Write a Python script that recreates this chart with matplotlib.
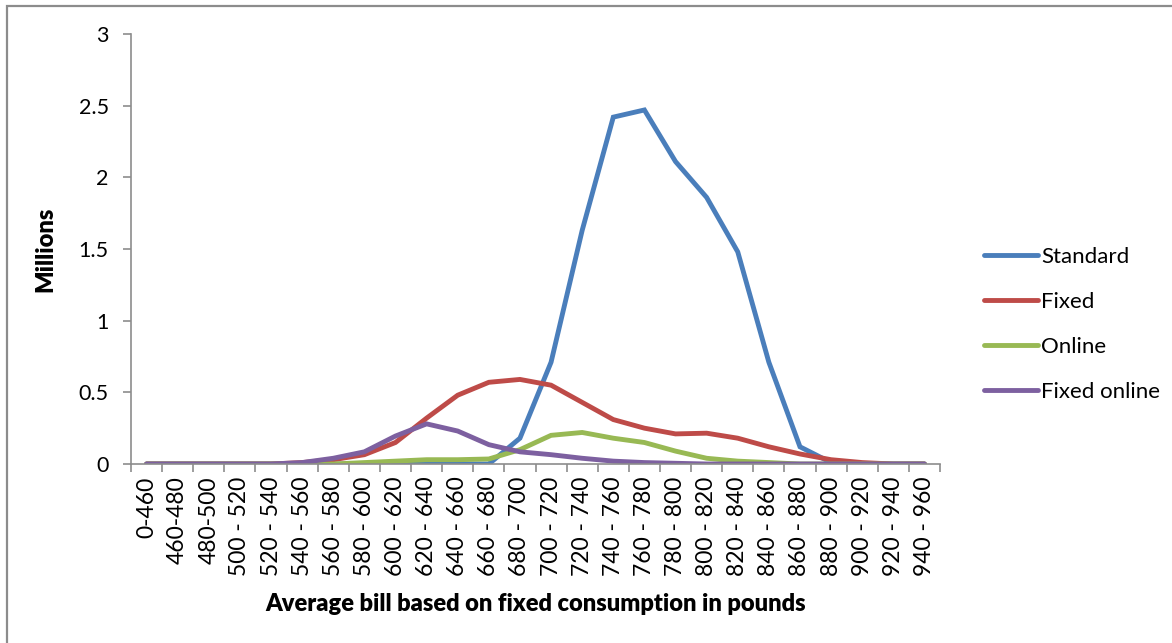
import matplotlib
matplotlib.use("Agg")
import matplotlib.pyplot as plt
import matplotlib.patches as patches
import numpy as np

# Distribución de hogares por factura media (millones)
categorias = ["0-460", "460-480", "480-500", "500 - 520", "520 - 540", "540 - 560",
              "560 - 580", "580 - 600", "600 - 620", "620 - 640", "640 - 660",
              "660 - 680", "680 - 700", "700 - 720", "720 - 740", "740 - 760",
              "760 - 780", "780 - 800", "800 - 820", "820 - 840", "840 - 860",
              "860 - 880", "880 - 900", "900 - 920", "920 - 940", "940 - 960"]

standard = [0, 0, 0, 0, 0, 0, 0, 0, 0, 0, 0, 0, 0.18, 0.71, 1.63, 2.42,
            2.47, 2.11, 1.86, 1.48, 0.71, 0.12, 0.01, 0, 0, 0]
fixed = [0, 0, 0, 0, 0, 0.01, 0.03, 0.065, 0.15, 0.32, 0.48, 0.57, 0.59,
         0.55, 0.43, 0.31, 0.25, 0.21, 0.215, 0.18, 0.12, 0.07, 0.03, 0.01, 0, 0]
online = [0, 0, 0, 0, 0, 0, 0, 0.01, 0.02, 0.03, 0.03, 0.035, 0.10, 0.20,
          0.22, 0.18, 0.15, 0.09, 0.04, 0.02, 0.01, 0, 0, 0, 0, 0]
fixed_online = [0, 0, 0, 0, 0, 0.01, 0.04, 0.085, 0.195, 0.28, 0.23, 0.135,
                0.085, 0.065, 0.04, 0.02, 0.01, 0.005, 0, 0, 0, 0, 0, 0, 0, 0]

series = [("Standard", standard, "#4A7EBB"),
          ("Fixed", fixed, "#BE4B48"),
          ("Online", online, "#98B954"),
          ("Fixed online", fixed_online, "#7D60A0")]

plt.rcParams['font.family'] = ['Lato', 'DejaVu Sans']

fig = plt.figure(figsize=(11.72, 6.43), dpi=100)
ax = fig.add_axes([131 / 1172, 1 - 464 / 643, (940 - 131) / 1172, (464 - 34) / 643])

# marco exterior del gráfico
fig.patches.append(patches.Rectangle((7 / 1172, -0.1), 1.2, 1 - 6 / 643 + 0.1,
                                     transform=fig.transFigure, fill=False,
                                     edgecolor="#8C8C8C", linewidth=1.6))

x = np.arange(len(categorias))
for nombre, valores, color in series:
    ax.plot(x, valores, color=color, linewidth=3.5, label=nombre,
            solid_joinstyle="miter", solid_capstyle="round")

ax.set_xlim(-0.5, len(categorias) - 0.5)
ax.set_ylim(0, 3)
ax.set_yticks(np.arange(0, 3.01, 0.5))
ax.set_yticklabels(["0", "0.5", "1", "1.5", "2", "2.5", "3"])

# marcas entre categorías, etiquetas centradas
ax.set_xticks(np.arange(-0.5, len(categorias), 1.0))
ax.set_xticklabels([])
ax.set_xticks(x, minor=True)
ax.set_xticklabels(categorias, minor=True, rotation=90, fontsize=16.5)
ax.tick_params(axis="x", which="minor", length=0, pad=9)
ax.tick_params(axis="x", which="major", length=6, color="#8C8C8C", width=1.2)
ax.tick_params(axis="y", length=6, color="#8C8C8C", width=1.2, labelsize=15.5, pad=10)

for lado in ["top", "right"]:
    ax.spines[lado].set_visible(False)
for lado in ["left", "bottom"]:
    ax.spines[lado].set_color("#8C8C8C")
    ax.spines[lado].set_linewidth(1.2)

ax.set_xlabel("Average bill based on fixed consumption in pounds",
              fontsize=17, fontweight="heavy", labelpad=12)
ax.set_ylabel("Millions", fontsize=17, fontweight="heavy", labelpad=16)

ax.legend(loc="center left", bbox_to_anchor=(1.03, 0.325), frameon=False,
          fontsize=16, handlelength=2.4, handletextpad=0.15, labelspacing=1.13)

fig.savefig("out.png", dpi=100)
